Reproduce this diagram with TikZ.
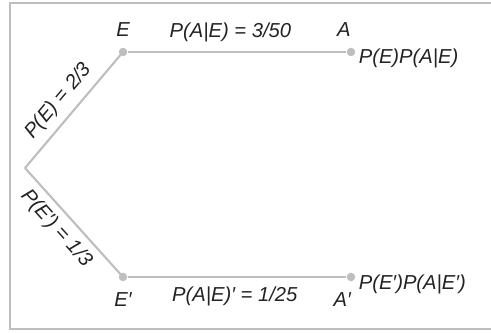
\documentclass[tikz,border=0pt]{standalone}
\usepackage{fontspec}
\setmainfont{Liberation Sans}
\usetikzlibrary{positioning}
\definecolor{branchgray}{RGB}{190,190,190}
\definecolor{labelgray}{RGB}{35,35,35}

\begin{document}
\begin{tikzpicture}[x=0.02cm, y=-0.02cm, line width=1.2pt,
	branch/.style={draw=branchgray},
	tip/.style={circle, fill=branchgray, inner sep=0pt, minimum size=0.17cm},
	lbl/.style={text=labelgray, font=\fontsize{11.5}{13}\selectfont\itshape, inner sep=1pt}]
	\useasboundingbox (0,0) rectangle (491,333);
	% frame (open on the right)
	\draw[branchgray] (491,3) -- (10,3) -- (10,329) -- (491,329);
	\coordinate (root) at (25,168);
	\node [tip] (e) at (123,52) {};
	\node [tip] (ep) at (123,277) {};
	\node [tip] (a) at (351,52) {};
	\node [tip] (ap) at (351,277) {};
	\node [lbl] (le) [above=4pt of e] {E};
	\node [lbl] (lep) [below=4pt of ep] {E′};
	\node [lbl] (la) [above=4pt of a, xshift=-4pt] {A};
	\node [lbl] (lap) [below=4pt of ap, xshift=-5pt] {A′};
	\node [lbl, anchor=west] (pa) at (356,58) {P(E)P(A|E)};
	\node [lbl, anchor=west] (pap) at (356,284) {P(E′)P(A|E′)};
	\path[branch] (root) edge node [lbl, sloped, above=3pt, pos=0.48] {P(E) = 2/3} (e.center);
	\path[branch] (root) edge node [lbl, sloped, below=3pt, pos=0.45] {P(E′) = 1/3} (ep.center);
	\path[branch] (e) edge node [lbl, above=4pt, pos=0.47] {P(A|E) = 3/50} (a);
	\path[branch] (ep) edge node [lbl, below=4pt, pos=0.49] {P(A|E)′ = 1/25} (ap);
\end{tikzpicture}
\end{document}
